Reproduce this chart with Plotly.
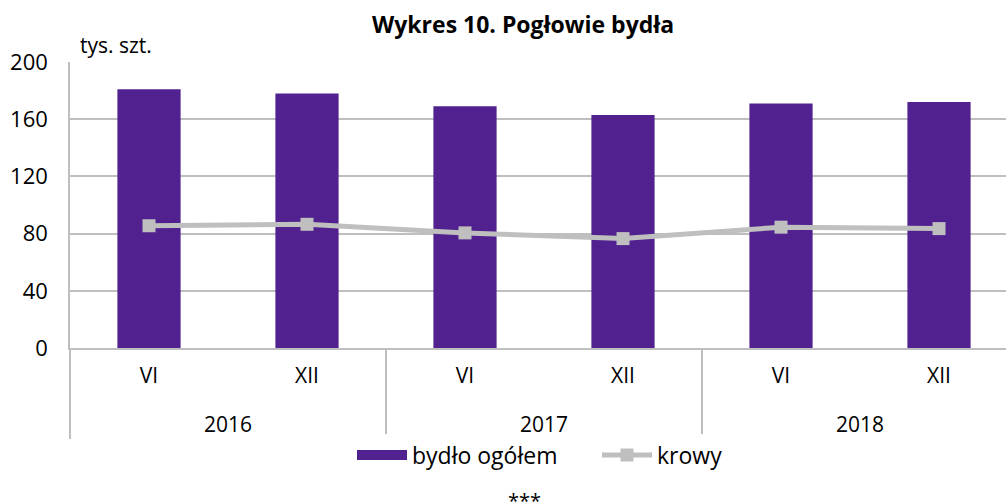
import plotly.graph_objects as go

years = ["2016", "2016", "2017", "2017", "2018", "2018"]
months = ["VI", "XII", "VI", "XII", "VI", "XII"]
bydlo = [181, 178, 169, 163, 171, 172]
krowy = [85.5, 86.5, 80.5, 76.5, 84.5, 83.5]

W, H = 1006, 504
ml, mr, mt, mb = 70, 0, 62, 156
PW = W - ml - mr
PH = H - mt - mb
FONT = "Open Sans"
PURPLE = "#51218f"
GREY = "#bfbfbf"

month_labels = [m + "<br> " for m in months]

fig = go.Figure()
fig.add_trace(go.Bar(
    x=[years, month_labels], y=bydlo, name="bydło ogółem",
    marker=dict(color=PURPLE, line=dict(width=0)), width=0.4, showlegend=False,
))
fig.add_trace(go.Scatter(
    x=[None], y=[None], name="bydło ogółem", mode="lines",
    line=dict(color=PURPLE, width=13),
))
fig.add_trace(go.Scatter(
    x=[years, month_labels], y=krowy, name="krowy", mode="lines+markers",
    line=dict(color=GREY, width=5),
    marker=dict(symbol="square", size=13, color=GREY),
))

fig.update_layout(
    width=W, height=H,
    margin=dict(l=ml, r=mr, t=mt, b=mb, autoexpand=False),
    plot_bgcolor="white", paper_bgcolor="white",
    font=dict(family=FONT, size=21, color="#000000"),
    title=dict(text="<b>Wykres 10. Pogłowie bydła</b>", x=0.52, xanchor="center",
               xref="container", y=1 - 25 / H, yanchor="middle", font=dict(size=23)),
    showlegend=True,
    legend=dict(orientation="h", x=(352 - ml) / PW, xanchor="left", y=1 - 455 / H,
                yref="container", yanchor="middle", font=dict(size=23),
                itemwidth=50, tracegroupgap=0, entrywidth=180, entrywidthmode="pixels"),
    bargap=0.6,
)
fig.update_xaxes(
    type="multicategory", range=[-0.5, 5.424], automargin=False,
    showline=True, linecolor=GREY, linewidth=1.5,
    dividercolor=GREY, dividerwidth=1.5, showdividers=True,
    ticklabelstandoff=8, tickfont=dict(size=21),
)
fig.update_yaxes(
    range=[0, 200], tickvals=[0, 40, 80, 120, 160, 200], automargin=False,
    showgrid=True, gridcolor=GREY, gridwidth=1.5,
    showline=True, linecolor=GREY, linewidth=1.5,
    zeroline=False, ticks="", ticklabelstandoff=16, tickfont=dict(size=22),
)
fig.add_annotation(text="tys. szt.", xref="paper", yref="paper",
                   x=(78 - ml) / PW, xanchor="left",
                   y=1 + (62 - 45) / PH,
                   yanchor="middle", showarrow=False, font=dict(size=21))
fig.add_annotation(text="***", xref="paper", yref="paper",
                   x=(524 - ml) / PW, xanchor="center",
                   y=-(500 - (H - mb)) / PH, yanchor="middle",
                   showarrow=False, font=dict(size=20))

fig.write_html("out.html", config={"displayModeBar": False},
               post_script="document.body.style.margin='0';")
